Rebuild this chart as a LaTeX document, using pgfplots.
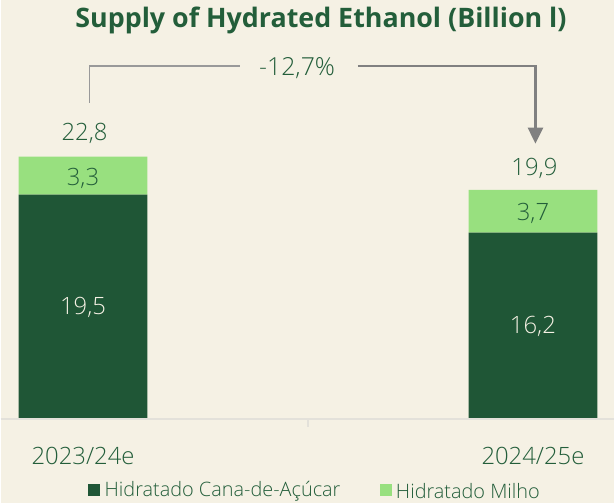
\documentclass[border=0pt]{standalone}
\usepackage{fontspec}
\setmainfont{Open Sans}
\newfontfamily\lightfont{Open Sans Light}
\usepackage{pgfplots}
\pgfplotsset{compat=1.18}
\usetikzlibrary{arrows.meta}
\definecolor{bg}{HTML}{F5F1E4}
\definecolor{dkg}{HTML}{1F5636}
\definecolor{ltg}{HTML}{98E07F}
\definecolor{txt}{HTML}{235E3A}
\definecolor{axl}{HTML}{E3E1DA}
\begin{document}
\begin{tikzpicture}[x=1bp,y=1bp]
\fill[bg] (0,-84) rectangle (615,420);
\begin{axis}[
  at={(0,0)}, anchor=south west,
  scale only axis, width=615bp, height=420bp,
  xmin=-0.18293, xmax=1.18071, ymin=0, ymax=36.4,
  axis lines=none, ticks=none, clip=false,
  ybar stacked, bar width=129bp,
]
\addplot[fill=dkg, draw=none] coordinates {(0,19.5) (1,16.2)};
\addplot[fill=ltg, draw=none] coordinates {(0,3.3) (1,3.7)};
\end{axis}
\draw[axl, line width=1.5bp] (0,0) -- (615,0);
\draw[axl, line width=1.2bp] (308,0) -- (308,-8);
% value labels
\begin{scope}[every node/.style={font=\lightfont\fontsize{24}{24}\selectfont, text=txt}]
\node at (84,286) {22,8};
\node at (82.5,241) {3,3};
\node[text=bg] at (82.5,112) {19,5};
\node at (535,251) {19,9};
\node at (533.5,206) {3,7};
\node[text=bg] at (533.5,93) {16,2};
\node[font=\lightfont\fontsize{25}{25}\selectfont] at (297,352) {-12,7\%};
\node at (82.5,-37) {2023/24e};
\node at (533.5,-37) {2024/25e};
\end{scope}
\node[font=\bfseries\fontsize{27}{27}\selectfont, text=txt] at (321,399) {Supply of Hydrated Ethanol (Billion l)};
% bracket
\draw[gray!80, line width=1.5bp] (89,317) -- (89,354) -- (240,354);
\draw[gray, line width=2.5bp, -{Triangle[width=15bp,length=16bp]}] (358,354) -- (536,354) -- (536,276);
% legend
\fill[dkg] (87,-77) rectangle (99,-65);
\node[anchor=west, inner sep=0, font=\lightfont\fontsize{20}{20}\selectfont, text=txt] at (104,-72) {Hidratado Cana-de-Açúcar};
\fill[ltg] (380,-77) rectangle (392,-65);
\node[anchor=west, inner sep=0, font=\lightfont\fontsize{20}{20}\selectfont, text=txt] at (396,-72) {Hidratado Milho};
\end{tikzpicture}
\end{document}
